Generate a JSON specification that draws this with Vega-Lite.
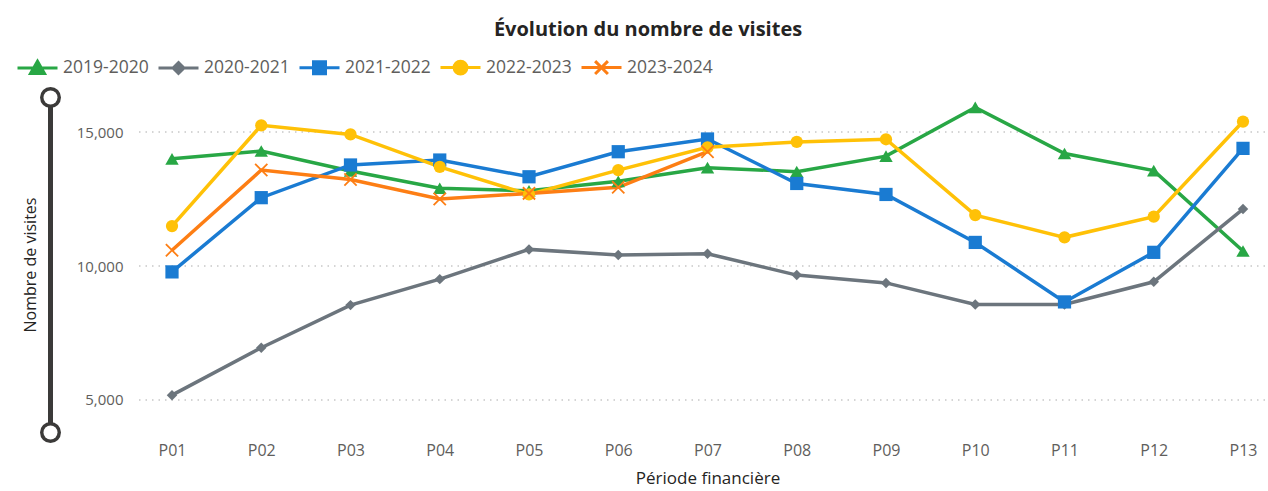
{
  "$schema": "https://vega.github.io/schema/vega-lite/v6.json",
  "autosize": {"type": "none"},
  "width": 1128,
  "height": 335,
  "padding": {"left": 137, "top": 97, "right": 3, "bottom": 59},
  "background": "white",
  "config": {
    "font": "Open Sans",
    "view": {"stroke": null}
  },
  "title": {
    "text": "Évolution du nombre de visites",
    "fontSize": 20,
    "fontWeight": "bold",
    "color": "#252423",
    "anchor": "middle",
    "dx": -53,
    "baseline": "alphabetic",
    "offset": -10
  },
  "data": {
    "values": [
      {"p": "P01", "series": "2019-2020", "v": 14000},
      {"p": "P02", "series": "2019-2020", "v": 14290},
      {"p": "P03", "series": "2019-2020", "v": 13545},
      {"p": "P04", "series": "2019-2020", "v": 12900},
      {"p": "P05", "series": "2019-2020", "v": 12810},
      {"p": "P06", "series": "2019-2020", "v": 13160},
      {"p": "P07", "series": "2019-2020", "v": 13670},
      {"p": "P08", "series": "2019-2020", "v": 13520},
      {"p": "P09", "series": "2019-2020", "v": 14100},
      {"p": "P10", "series": "2019-2020", "v": 15920},
      {"p": "P11", "series": "2019-2020", "v": 14200},
      {"p": "P12", "series": "2019-2020", "v": 13560},
      {"p": "P13", "series": "2019-2020", "v": 10560},
      {"p": "P01", "series": "2020-2021", "v": 5180},
      {"p": "P02", "series": "2020-2021", "v": 6950},
      {"p": "P03", "series": "2020-2021", "v": 8540},
      {"p": "P04", "series": "2020-2021", "v": 9510},
      {"p": "P05", "series": "2020-2021", "v": 10620},
      {"p": "P06", "series": "2020-2021", "v": 10410},
      {"p": "P07", "series": "2020-2021", "v": 10460},
      {"p": "P08", "series": "2020-2021", "v": 9660},
      {"p": "P09", "series": "2020-2021", "v": 9370},
      {"p": "P10", "series": "2020-2021", "v": 8565},
      {"p": "P11", "series": "2020-2021", "v": 8565},
      {"p": "P12", "series": "2020-2021", "v": 9410},
      {"p": "P13", "series": "2020-2021", "v": 12125},
      {"p": "P01", "series": "2021-2022", "v": 9780},
      {"p": "P02", "series": "2021-2022", "v": 12550},
      {"p": "P03", "series": "2021-2022", "v": 13770},
      {"p": "P04", "series": "2021-2022", "v": 13955},
      {"p": "P05", "series": "2021-2022", "v": 13330},
      {"p": "P06", "series": "2021-2022", "v": 14265},
      {"p": "P07", "series": "2021-2022", "v": 14740},
      {"p": "P08", "series": "2021-2022", "v": 13080},
      {"p": "P09", "series": "2021-2022", "v": 12670},
      {"p": "P10", "series": "2021-2022", "v": 10880},
      {"p": "P11", "series": "2021-2022", "v": 8660},
      {"p": "P12", "series": "2021-2022", "v": 10510},
      {"p": "P13", "series": "2021-2022", "v": 14390},
      {"p": "P01", "series": "2022-2023", "v": 11490},
      {"p": "P02", "series": "2022-2023", "v": 15250},
      {"p": "P03", "series": "2022-2023", "v": 14910},
      {"p": "P04", "series": "2022-2023", "v": 13700},
      {"p": "P05", "series": "2022-2023", "v": 12670},
      {"p": "P06", "series": "2022-2023", "v": 13580},
      {"p": "P07", "series": "2022-2023", "v": 14430},
      {"p": "P08", "series": "2022-2023", "v": 14630},
      {"p": "P09", "series": "2022-2023", "v": 14730},
      {"p": "P10", "series": "2022-2023", "v": 11900},
      {"p": "P11", "series": "2022-2023", "v": 11070},
      {"p": "P12", "series": "2022-2023", "v": 11840},
      {"p": "P13", "series": "2022-2023", "v": 15390},
      {"p": "P01", "series": "2023-2024", "v": 10590},
      {"p": "P02", "series": "2023-2024", "v": 13580},
      {"p": "P03", "series": "2023-2024", "v": 13230},
      {"p": "P04", "series": "2023-2024", "v": 12500},
      {"p": "P05", "series": "2023-2024", "v": 12710},
      {"p": "P06", "series": "2023-2024", "v": 12935},
      {"p": "P07", "series": "2023-2024", "v": 14265}
    ]
  },
  "resolve": {"scale": {"y": "independent"}, "axis": {"y": "independent"}},
  "layer": [
    {
      "data": {"values": [{"v": 5000}, {"v": 10000}, {"v": 15000}]},
      "mark": {"type": "rule", "color": "#c8c8c8", "strokeDash": [1.5, 5], "strokeWidth": 1.5},
      "encoding": {
        "y": {
          "field": "v",
          "type": "quantitative",
          "scale": {"domain": [3805, 16307], "nice": false, "zero": false},
          "axis": {
            "orient": "left",
            "title": null,
            "offset": 87,
            "zindex": 3,
            "values": [3805, 16307],
            "labels": false,
            "domain": false,
            "grid": false,
            "ticks": true,
            "tickSize": 0,
            "tickWidth": 14,
            "tickCap": "round",
            "tickColor": "#ffffff"
          }
        }
      }
    },
    {
      "encoding": {
        "x": {
          "field": "p",
          "type": "ordinal",
          "scale": {"type": "point", "range": [35, 1106], "padding": 0},
          "axis": {
            "title": "Période financière",
            "titleFontSize": 17,
            "titleFontWeight": "normal",
            "titleColor": "#252423",
            "titlePadding": 12,
            "labelFontSize": 16,
            "labelColor": "#605e5c",
            "labelAngle": 0,
            "labelPadding": 10,
            "domain": false,
            "ticks": false,
            "grid": false
          }
        },
        "y": {
          "field": "v",
          "type": "quantitative",
          "scale": {"domain": [3805, 16307], "nice": false, "zero": false},
          "axis": {
            "orient": "left",
            "zindex": 2,
            "title": "Nombre de visites",
            "titleFontSize": 16,
            "titleFontWeight": "normal",
            "titleColor": "#252423",
            "titleX": -20,
            "titleY": 167.5,
            "titleAngle": -90,
            "titleAlign": "center",
            "titleBaseline": "middle",
            "values": [3805, 5000, 10000, 15000, 16307],
            "labelExpr": "datum.value % 5000 === 0 ? format(datum.value, ',') : ''",
            "labelFontSize": 15,
            "labelColor": "#605e5c",
            "labelAlign": "right",
            "labelPadding": -73,
            "offset": 87,
            "domain": true,
            "domainColor": "#3b3a39",
            "domainWidth": 5,
            "ticks": true,
            "tickSize": 0,
            "tickWidth": 21,
            "tickCap": "round",
            "tickColor": "#3b3a39",
            "tickOpacity": {"condition": {"test": "datum.value % 5000 !== 0", "value": 1}, "value": 0},
            "grid": false
          }
        },
        "color": {
          "field": "series",
          "type": "nominal",
          "scale": {
            "domain": ["2019-2020", "2020-2021", "2021-2022", "2022-2023", "2023-2024"],
            "range": ["#28a745", "#6c757d", "#1a7bd2", "#ffc107", "#fd7e14"]
          },
          "legend": {
            "title": null,
            "orient": "none",
            "direction": "horizontal",
            "columns": 5,
            "legendX": -121,
            "legendY": -51,
            "symbolSize": 1600,
            "symbolStrokeWidth": 3,
            "labelFontSize": 17.5,
            "labelColor": "#605e5c",
            "labelOffset": 4,
            "columnPadding": 3,
            "encode": {
              "symbols": {
                "update": {
                  "shape": {"signal": "datum.value === '2019-2020' ? 'M-1,0H1M0,-0.33L0.35,0.28H-0.35Z' : datum.value === '2020-2021' ? 'M-1,0H1M-0.27,0L0,-0.27L0.27,0L0,0.27Z' : datum.value === '2021-2022' ? 'M-1,0H1M-0.3,-0.3H0.3V0.3H-0.3Z' : datum.value === '2022-2023' ? 'M-1,0H1M-0.32,0A0.32,0.32,0,1,0,0.32,0A0.32,0.32,0,1,0,-0.32,0Z' : 'M-1,0H1M-0.32,-0.32L0.32,0.32M-0.32,0.32L0.32,-0.32'"},
                  "fill": {"scale": "color", "field": "value"},
                  "stroke": {"scale": "color", "field": "value"},
                  "strokeWidth": {"value": 3},
                  "opacity": {"value": 1}
                }
              }
            }
          }
        }
      },
      "layer": [
        {"mark": {"type": "line", "strokeWidth": 3.5}},
        {
          "transform": [{"filter": {"field": "series", "equal": "2019-2020"}}],
          "mark": {"type": "point", "shape": "triangle-up", "filled": true, "size": 180, "opacity": 1}
        },
        {
          "transform": [{"filter": {"field": "series", "equal": "2020-2021"}}],
          "mark": {"type": "point", "shape": "diamond", "filled": true, "size": 110, "opacity": 1}
        },
        {
          "transform": [{"filter": {"field": "series", "equal": "2021-2022"}}],
          "mark": {"type": "point", "shape": "square", "filled": true, "size": 175, "opacity": 1}
        },
        {
          "transform": [{"filter": {"field": "series", "equal": "2022-2023"}}],
          "mark": {"type": "point", "shape": "circle", "filled": true, "size": 150, "opacity": 1}
        },
        {
          "transform": [{"filter": {"field": "series", "equal": "2023-2024"}}],
          "mark": {"type": "point", "shape": "M-1,-1L1,1M-1,1L1,-1", "filled": false, "size": 150, "opacity": 1, "strokeWidth": 1.8}
        }
      ]
    }
  ]
}
